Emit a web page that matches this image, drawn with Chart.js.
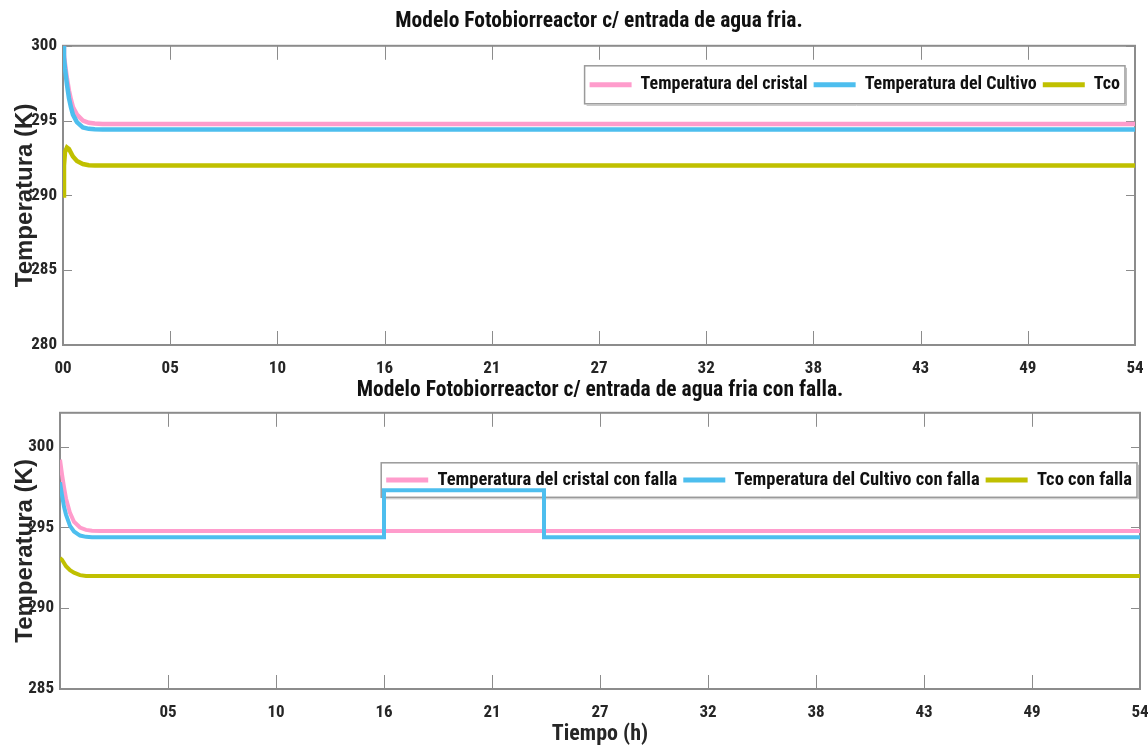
<!DOCTYPE html>
<html>
<head>
<meta charset="utf-8">
<script src="https://cdn.jsdelivr.net/npm/chart.js@4.4.0/dist/chart.umd.min.js"></script>
<style>
html,body{margin:0;padding:0;background:#fff;}
#wrapTop{position:absolute;left:0;top:0;width:1148px;height:378px;}
#wrapBot{position:absolute;left:0;top:375px;width:1148px;height:374px;}
</style>
</head>
<body>
<div id="wrapTop"><canvas id="chartTop"></canvas></div>
<div id="wrapBot"><canvas id="chartBot"></canvas></div>
<script>
// Roboto is variable here, so 'condensed' gives an Arial Narrow look
const NARROW='Roboto,"Liberation Sans",sans-serif';
const NB='bold condensed';
const WIDE='"Liberation Sans",Arial,sans-serif';
const C={pink:'#ff9ccc',blue:'#4dbeee',olive:'#c0c000',axis:'#8c8c8c',text:'#262626'};

// x axis ticks (hours)
const xTickVals=[0,5.4,10.8,16.2,21.6,27,32.4,37.8,43.2,48.6,54];
const xLabelsTop=['00','05','10','16','21','27','32','38','43','49','54'];
const xLabelsBot=['','05','10','16','21','27','32','38','43','49','54'];
const yTicksTop=[280,285,290,295,300];
const yTicksBot=[285,290,295,300];

// top panel: agua fria
const tTop=[0,0.05,0.1,0.2,0.3,0.4,0.5,0.7,1.0,1.3,1.6,2.0,54];
const cristalTop=[300,299.4,298.8,297.8,297.0,296.4,295.9,295.4,295.0,294.85,294.8,294.78,294.78];
const cultivoTop=[300,299.2,298.5,297.4,296.5,295.9,295.4,294.9,294.55,294.45,294.42,294.4,294.4];
const tcoTop=[290.0,292.0,292.9,293.2,293.1,292.85,292.6,292.3,292.1,292.02,292.0,292.0,292.0];

// bottom panel: con falla
const tBot=[0,0.1,0.2,0.3,0.5,0.7,1.0,1.3,1.6,2.0,16.2,16.2,24.2,24.2,54];
const cristalBot=[299.2,298.3,297.5,296.8,295.9,295.35,295.0,294.85,294.8,294.78,294.78,294.78,294.78,294.78,294.78];
const cultivoBot=[297.8,297.0,296.3,295.8,295.1,294.75,294.5,294.42,294.4,294.4,294.4,297.3,297.3,294.4,294.4];
const tcoBot=[293.1,293.0,292.8,292.6,292.35,292.2,292.05,292.0,292.0,292.0,292.0,292.0,292.0,292.0,292.0];

const pts=(t,v)=>v.map((y,i)=>({x:t[i],y}));

// MATLAB-like box with inward ticks
const boxTicks={id:'boxTicks',beforeDatasetsDraw(chart,args,o){
  const {ctx,chartArea:a,scales:{x,y}}=chart;
  ctx.save();
  ctx.strokeStyle=C.axis;ctx.lineWidth=1;
  ctx.beginPath();
  x.ticks.forEach(t=>{
    const px=Math.round(x.getPixelForValue(t.value))+.5;
    ctx.moveTo(px,a.bottom);ctx.lineTo(px,a.bottom-o.xLen);
    ctx.moveTo(px,a.top);ctx.lineTo(px,a.top+o.xLen);
  });
  y.ticks.forEach(t=>{
    const py=Math.round(y.getPixelForValue(t.value))+.5;
    ctx.moveTo(a.left,py);ctx.lineTo(a.left+o.yLen,py);
    ctx.moveTo(a.right,py);ctx.lineTo(a.right-o.yLen,py);
  });
  ctx.stroke();
  ctx.lineWidth=2;
  ctx.strokeRect(a.left,a.top,a.width,a.height);
  ctx.restore();
}};

// legend inside the axes, top right, one row, with a frame
const legendFrame={id:'legendFrame',
  afterInit(chart){chart.legend.isHorizontal=()=>true;},
  afterLayout(chart,args,o){
    const l=chart.legend,a=chart.chartArea;
    l.left=a.left;l.right=a.right-o.dx;l.width=l.right-l.left;
    l.top=a.top+o.dy;l.bottom=l.top+l.height;
  },
  beforeDraw(chart,args,o){
    const hb=chart.legend.legendHitBoxes;
    if(!hb||!hb.length)return;
    const left=Math.min(...hb.map(h=>h.left))-5;
    const right=Math.max(...hb.map(h=>h.left+h.width))+5;
    const top=hb[0].top-o.padY,bottom=hb[0].top+hb[0].height+o.padY;
    const ctx=chart.ctx;
    ctx.save();
    ctx.fillStyle='#fff';ctx.fillRect(left,top,right-left,bottom-top);
    ctx.strokeStyle='#9a9a9a';ctx.lineWidth=1.5;
    ctx.strokeRect(left,top,right-left,bottom-top);
    ctx.strokeStyle='#bdbdbd';ctx.lineWidth=1;
    ctx.beginPath();ctx.moveTo(left+2,bottom+1.5);ctx.lineTo(right+1.5,bottom+1.5);ctx.lineTo(right+1.5,top+2);ctx.stroke();
    ctx.restore();
  }
};

function xAxis(labels,h,withTitle){
  return {type:'linear',min:0,max:54,
    afterBuildTicks:s=>{s.ticks=xTickVals.map(v=>({value:v}));},
    afterFit:s=>{s.height=h;s.paddingRight=0;s.paddingLeft=0;},
    grid:{display:false,drawTicks:false},border:{display:false},
    ticks:{autoSkip:false,maxRotation:0,padding:14,color:C.text,
      font:{family:NARROW,size:17,weight:NB},callback:(v,i)=>labels[i]},
    title:{display:withTitle,text:'Tiempo (h)',color:C.text,
      font:{family:NARROW,size:22,weight:NB},padding:{top:0,bottom:1}}
  };
}
function yAxis(min,max,vals,w){
  return {type:'linear',min,max,
    afterBuildTicks:s=>{s.ticks=vals.map(v=>({value:v}));},
    afterFit:s=>{s.width=w;},
    grid:{display:false,drawTicks:false},border:{display:false},
    ticks:{padding:6,color:C.text,font:{family:NARROW,size:17,weight:NB}},
    title:{display:true,text:'Temperatura (K)',color:C.text,
      font:{family:WIDE,size:24,weight:'bold'},padding:{top:11,bottom:11}}
  };
}
function legendOpts(size,bw){
  return {display:true,position:'chartArea',align:'end',reverse:true,
    labels:{color:'#111',boxWidth:bw,boxHeight:5,padding:6,
      font:{family:NARROW,size,weight:NB},
      generateLabels:ch=>Chart.defaults.plugins.legend.labels.generateLabels(ch).map(it=>({...it,lineWidth:0,fillStyle:it.strokeStyle}))}};
}
function ds(label,data,color,w){
  return {label,data,borderColor:color,backgroundColor:color,borderWidth:w,pointRadius:0,tension:0,fill:false};
}

new Chart(document.getElementById('chartTop'),{type:'line',
  data:{datasets:[
    ds('Tco',pts(tTop,tcoTop),C.olive,4.5),
    ds('Temperatura del Cultivo',pts(tTop,cultivoTop),C.blue,4.5),
    ds('Temperatura del cristal',pts(tTop,cristalTop),C.pink,4.5)
  ]},
  options:{responsive:true,maintainAspectRatio:false,animation:false,parsing:false,
    layout:{padding:{left:0,right:13,top:0,bottom:0}},
    scales:{x:xAxis(xLabelsTop,33,false),y:yAxis(280,300,yTicksTop,63)},
    plugins:{
      title:{display:true,fullSize:false,text:'Modelo Fotobiorreactor c/ entrada de agua fria.',color:'#111',
        font:{family:NARROW,size:21.5,weight:NB},padding:{top:9,bottom:11}},
      legend:legendOpts(18,42),tooltip:{enabled:false},
      boxTicks:{xLen:14,yLen:9},legendFrame:{dx:9,dy:24,padY:10}
    }},
  plugins:[boxTicks,legendFrame]
});

new Chart(document.getElementById('chartBot'),{type:'line',
  data:{datasets:[
    ds('Tco con falla',pts(tBot,tcoBot),C.olive,4),
    ds('Temperatura del Cultivo con falla',pts(tBot,cultivoBot),C.blue,4),
    ds('Temperatura del cristal con falla',pts(tBot,cristalBot),C.pink,4)
  ]},
  options:{responsive:true,maintainAspectRatio:false,animation:false,parsing:false,
    layout:{padding:{left:0,right:8,top:0,bottom:0}},
    scales:{x:xAxis(xLabelsBot,60,true),y:yAxis(285,302.1,yTicksBot,60)},
    plugins:{
      title:{display:true,fullSize:false,text:'Modelo Fotobiorreactor c/ entrada de agua fria con falla.',color:'#111',
        font:{family:NARROW,size:21.5,weight:NB},padding:{top:3,bottom:9}},
      legend:legendOpts(18.5,42),tooltip:{enabled:false},
      boxTicks:{xLen:14,yLen:9},legendFrame:{dx:2,dy:52,padY:8}
    }},
  plugins:[boxTicks,legendFrame]
});
</script>
</body>
</html>
